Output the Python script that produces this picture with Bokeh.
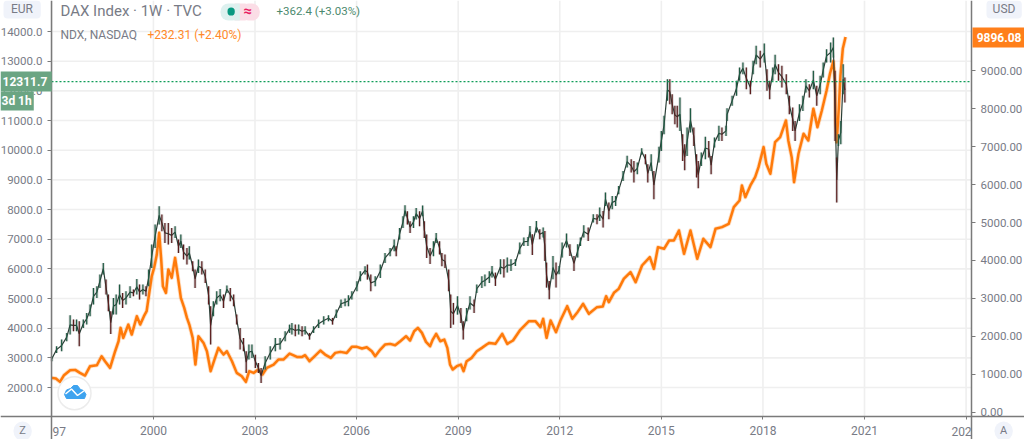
from bokeh.plotting import figure
from bokeh.embed import file_html
from bokeh.resources import INLINE
from bokeh.models import (Range1d, LinearAxis, FixedTicker, Label, ColumnDataSource)

dax_dates = [1997.00,1997.14,1997.29,1997.44,1997.54,1997.64,1997.73,1997.81,1997.93,1998.03,1998.13,1998.23,1998.33,1998.42,1998.52,1998.60,1998.67,1998.74,1998.82,1998.90,1999.00,1999.09,1999.19,1999.31,1999.41,1999.51,1999.59,1999.69,1999.78,1999.86,1999.95,
2000.05,2000.17,2000.25,2000.34,2000.44,2000.54,2000.64,2000.74,2000.81,2000.89,2000.99,2001.06,2001.16,2001.23,2001.33,2001.43,2001.53,2001.63,2001.69,2001.77,2001.87,2001.97,2002.07,2002.17,2002.27,2002.37,2002.46,2002.56,2002.66,2002.74,2002.82,2002.91,2003.01,2003.10,2003.18,2003.30,2003.45,2003.60,2003.74,2003.89,2004.02,
2004.09,2004.19,2004.29,2004.39,2004.48,2004.61,2004.73,2004.88,2005.03,2005.17,2005.29,2005.40,2005.54,2005.66,2005.76,2005.86,2006.01,2006.11,2006.25,2006.32,2006.42,2006.55,2006.70,2006.84,2006.99,2007.11,2007.17,2007.27,2007.37,2007.43,2007.50,2007.58,2007.68,2007.76,2007.86,2007.95,2008.00,2008.07,2008.17,2008.27,2008.35,2008.45,2008.52,2008.61,2008.72,2008.78,2008.86,2008.98,2009.08,2009.15,2009.25,2009.35,2009.47,2009.55,2009.70,2009.79,2009.92,
2010.00,2010.10,2010.25,2010.35,2010.45,2010.56,2010.69,2010.82,2010.94,2011.06,2011.12,2011.19,2011.31,2011.41,2011.51,2011.56,2011.61,2011.69,2011.80,2011.89,2011.98,2012.07,2012.20,2012.30,2012.42,2012.53,2012.61,2012.71,2012.84,2012.99,2013.10,2013.18,2013.28,2013.35,2013.45,2013.55,2013.65,2013.74,2013.87,2013.99,2014.11,2014.19,2014.29,2014.42,2014.53,2014.60,2014.70,2014.78,2014.93,
2015.00,2015.08,2015.18,2015.25,2015.32,2015.40,2015.47,2015.55,2015.63,2015.69,2015.76,2015.86,2015.96,2016.04,2016.09,2016.18,2016.30,2016.40,2016.47,2016.57,2016.70,2016.79,2016.91,2016.94,2017.09,2017.22,2017.31,2017.41,2017.51,2017.63,2017.71,2017.80,2017.92,2018.04,2018.12,2018.20,2018.29,2018.36,2018.46,2018.56,2018.69,2018.78,2018.88,2018.95,2019.08,2019.18,2019.27,2019.37,2019.49,2019.59,2019.69,2019.78,2019.88,2020.00,2020.08,2020.13,2020.18,2020.23,2020.30,2020.37,2020.42]

dax_high = [3054,3391,3616,3841,4437,4291,4291,4234,4291,4515,4796,5358,5415,5808,6201,5639,5134,4572,5021,5134,5471,5190,5246,5415,5302,5662,5471,5471,5415,5977,6820,
7494,8112,7831,7550,7550,7382,7438,6988,7157,6820,6707,6763,6258,5977,6314,6258,5977,5415,4740,4909,5246,5325,5134,5437,5358,5134,4459,4010,3672,3223,3448,3448,3110,2829,2661,3054,3391,3672,3672,3897,4122,
4178,4122,4122,4066,4066,3841,4066,4291,4403,4437,4347,4628,4965,4999,5111,5246,5583,5920,6089,6145,5808,5752,6145,6539,6707,6988,6763,7382,7775,8146,7944,7606,7775,8056,7944,8135,7606,7157,6707,6932,7213,6932,6539,6482,5977,5134,4853,5077,4684,4234,4684,5077,4965,5471,5752,5808,5920,
6100,5875,6325,6325,6381,6325,6325,6887,7055,7078,7449,7168,7617,7336,7392,7280,6212,5594,6437,6212,6100,6887,7190,6830,6437,6830,7055,7471,7392,7842,7842,8067,7954,8573,8235,8460,8460,8797,9303,9809,9697,9640,9584,10068,9865,9528,9865,9303,10112,
10651,11157,12393,12393,11887,11494,11494,11775,10539,10201,10763,11415,10763,9864,9639,9920,10449,10314,9808,10426,10820,10763,10820,11415,11831,12337,12787,12955,12787,12337,13011,13517,13349,13596,12730,12337,12787,13214,12899,12843,12562,11831,11438,10988,11550,11831,12393,12225,12674,12168,12506,12955,13405,13630,13798,12674,9752,10539,10988,12899,12449]

dax_low = [2886,3167,3223,3560,3785,3897,3897,3391,4010,4122,4403,4796,5021,5358,5808,5134,4572,3807,4459,4459,4796,4684,4796,5021,5077,5134,4965,5134,5077,5415,6033,
6707,7494,7269,6876,6820,6876,7044,6539,6707,6314,6145,6314,5920,5358,5864,5808,5527,4796,3448,4403,4796,4909,4684,5190,4909,4740,4122,3279,3223,2492,2942,2998,2661,2492,2155,2605,2942,3223,3279,3560,3841,
3785,3729,3785,3729,3785,3616,3841,4010,4122,4234,4122,4347,4684,4740,4740,4965,5246,5583,5808,5639,5246,5415,5696,6201,6426,6595,6426,6988,7382,7775,7494,7213,7382,7663,7438,7775,7044,6370,6168,6426,6876,6482,6089,6033,5246,4010,4122,4459,4178,3616,4234,4628,4515,5190,5358,5415,5527,
5706,5425,5819,5706,5875,5931,6100,6493,6774,6774,7055,6471,7224,6999,7055,6268,5369,4976,5650,5369,5819,6381,6718,6437,5931,6381,6774,7055,6943,7561,7505,7617,7392,8123,7673,8011,8123,8516,8966,9416,9247,8910,9191,9843,9528,8910,9303,8348,9584,
9977,10539,11663,11550,11213,10876,10763,10651,9639,9325,9808,10595,10145,9077,8718,9471,9696,9752,9190,10089,10314,10314,10482,10988,11494,11831,12337,12562,12056,11887,12562,12899,12787,12955,12000,11719,12337,12562,12337,12112,11887,11213,10651,10314,10988,11325,11944,11775,12056,11494,11887,12449,12955,12955,13124,10314,8235,10145,10201,11887,11606]

ndx_dates = [1997.00,1997.12,1997.24,1997.36,1997.54,1997.69,1997.83,1997.98,1998.13,1998.33,1998.47,1998.57,1998.72,1998.87,1998.97,1999.03,1999.11,1999.26,1999.36,1999.51,1999.61,1999.72,1999.80,1999.87,1999.95,
2000.02,2000.10,2000.17,2000.23,2000.28,2000.37,2000.44,2000.54,2000.64,2000.72,2000.81,2000.91,2000.99,2001.06,2001.16,2001.24,2001.33,2001.48,2001.58,2001.69,2001.82,2001.92,2002.07,2002.17,2002.32,2002.46,2002.61,2002.73,2002.83,2002.96,2003.10,2003.22,2003.35,2003.55,2003.69,2003.84,2004.02,
2004.09,2004.24,2004.39,2004.48,2004.61,2004.78,2004.93,2005.07,2005.24,2005.37,2005.52,2005.71,2005.86,2006.01,2006.16,2006.30,2006.45,2006.55,2006.70,2006.84,2006.99,2007.14,2007.29,2007.46,2007.58,2007.70,2007.81,2007.93,2008.05,2008.17,2008.25,2008.35,2008.47,2008.59,2008.68,2008.76,2008.84,2008.96,2009.08,2009.16,2009.25,2009.40,2009.55,2009.70,2009.84,2009.92,
2010.10,2010.30,2010.45,2010.62,2010.82,2011.09,2011.28,2011.43,2011.51,2011.61,2011.73,2011.89,2012.02,2012.22,2012.37,2012.51,2012.69,2012.86,2013.10,2013.27,2013.37,2013.45,2013.60,2013.74,2013.89,2014.09,2014.24,2014.43,2014.66,2014.78,2014.90,
2015.08,2015.23,2015.37,2015.52,2015.67,2015.86,2016.06,2016.24,2016.45,2016.60,2016.79,2016.99,2017.14,2017.31,2017.38,2017.48,2017.63,2017.77,2017.87,2018.02,2018.10,2018.22,2018.36,2018.51,2018.68,2018.75,2018.85,2018.92,2019.05,2019.20,2019.34,2019.49,2019.61,2019.74,2019.88,2019.98,2020.08,2020.13,2020.15,2020.18,2020.24,2020.29,2020.36,2020.44]

ndx_values = [903,885,797,973,1105,1114,1035,964,1211,1237,1474,1343,1167,1606,1870,2222,1958,2310,2046,2530,2310,2530,2662,3102,3585,
3805,4157,4729,4025,3321,3146,3761,3541,4069,3585,3014,2750,2486,2310,1958,1255,2002,1826,1606,1079,1431,1694,1518,1606,1343,1035,947,797,1079,1035,1123,991,1167,1255,1387,1387,1545,
1518,1457,1457,1501,1343,1492,1624,1518,1431,1562,1589,1562,1721,1721,1677,1712,1606,1474,1650,1782,1800,1765,1870,2002,1888,2134,2222,2090,1853,1738,1914,2064,1870,1914,1694,1255,1123,1211,1255,1079,1343,1431,1606,1694,1782,1826,
1801,2065,1801,1889,2153,2399,2399,2241,2461,1959,2417,2109,2417,2795,2461,2619,2857,2593,2769,2786,3059,2901,3147,3252,3516,3692,3428,3868,4088,3780,4352,
4308,4528,4528,4792,4176,4792,4045,4572,4352,4836,4880,4968,5408,5584,5979,5672,5979,6199,6463,6991,6551,6287,7123,7255,7694,7167,6727,6067,6815,7343,7167,8002,7518,7958,8486,8926,9260,8700,7600,7121,8010,8880,9594,9896]

left_ticks = [2000,3000,4000,5000,6000,7000,8000,9000,10000,11000,12000,13000,14000]
right_ticks = [0,1000,2000,3000,4000,5000,6000,7000,8000,9000]
year_ticks = [1997,2000,2003,2006,2009,2012,2015,2018,2021,2024]
last_dax_price = 12311.7

FONT = "Roboto"
GREY = "#787b86"
AXIS = "#7a7a7a"
GRID = "#efefef"
ORANGE = "#ff7a0a"

# The plot area runs from these bounds; the ranges extend past them so axes and tags fit inside the frame
X0, X1 = 1996.99, 2024.16
Y0, Y1 = 1025, 15045

p = figure(width=1024, height=439, output_backend="svg", toolbar_location=None,
           frame_width=1024, frame_height=439,
           x_range=Range1d(1995.484, 2025.725), y_range=Range1d(250, 15045),
           min_border=0,
           background_fill_color="white", border_fill_color="white",
           x_axis_type=None, y_axis_type=None)
p.outline_line_color = None
p.extra_y_ranges = {"usd": Range1d(-723, 10860)}
p.xgrid.visible = False
p.ygrid.visible = False

def style(ax):
    ax.major_tick_in = 0
    ax.major_tick_out = 4
    ax.minor_tick_line_color = None
    ax.major_tick_line_color = AXIS
    ax.axis_line_color = AXIS
    ax.axis_line_width = 1.5
    ax.major_label_text_color = GREY
    ax.major_label_text_font = FONT
    ax.major_label_text_font_size = "11.5px"
    ax.major_label_standoff = 5

yl = LinearAxis(ticker=FixedTicker(ticks=left_ticks), fixed_location=X0,
                major_label_overrides={t: f"{t}.0" for t in left_ticks})
style(yl)
p.add_layout(yl, "left")

yr = LinearAxis(y_range_name="usd", ticker=FixedTicker(ticks=right_ticks), fixed_location=X1,
                major_label_overrides={t: f"{t}.00" for t in right_ticks})
style(yr)
p.add_layout(yr, "right")

xa = LinearAxis(ticker=FixedTicker(ticks=year_ticks), fixed_location=Y0,
                major_label_overrides={t: str(t) for t in year_ticks})
style(xa)
xa.major_label_text_font_size = "12px"
xa.major_tick_out = 3
xa.major_label_standoff = 6
xa.major_label_overrides[1997] = ""
xa.major_label_overrides[2024] = ""
p.add_layout(xa, "below")

p.segment([X0] * len(left_ticks), left_ticks, [X1] * len(left_ticks), left_ticks,
          color=GRID, line_width=1.6, level="underlay")
p.segment(year_ticks, [Y0] * len(year_ticks), year_ticks, [Y1] * len(year_ticks),
          color=GRID, line_width=1.6, level="underlay")

# NDX line on the right-hand scale
p.line(ndx_dates, ndx_values, y_range_name="usd", color=ORANGE, line_width=4.2, line_alpha=0.25, line_join="round")
p.line(ndx_dates, ndx_values, y_range_name="usd", color=ORANGE, line_width=2.5, line_join="round")

# DAX candles on the left-hand scale
mids = [(h + l) / 2 for h, l in zip(dax_high, dax_low)]
colors = ["#1e5b43" if i == 0 or m >= mids[i - 1] else "#5a1c1c" for i, m in enumerate(mids)]
src = ColumnDataSource(dict(x=dax_dates, hi=dax_high, lo=dax_low, c=colors))
p.segment("x", "lo", "x", "hi", source=src, color="#8c8c8c", line_width=3, line_alpha=0.35)
p.line(dax_dates, mids, color="#2b3f37", line_width=1.2)
p.segment("x", "lo", "x", "hi", source=src, color="c", line_width=1.2)

p.segment([X0], [last_dax_price], [X1], [last_dax_price], color="#0f9d58", line_width=1.2, line_dash="2 2")

# TradingView logo, placed by pixel through the chart's scales
def xd(px): return X0 + (px - 51) * (X1 - X0) / 920
def yd(py): return Y1 - py * (Y1 - Y0) / 416

p.scatter([xd(74)], [yd(392.7)], size=33, fill_color="white", line_color="#ececec", line_width=1.5)
p.patch([xd(v) for v in (64, 66, 70, 73, 77, 80, 83, 85.5, 84, 66)],
        [yd(v) for v in (394, 389.5, 388, 385, 385, 389, 390, 394, 398, 398)], color="#3ea3ef")
p.line([xd(v) for v in (65, 71, 77, 84)], [yd(v) for v in (393.5, 388.5, 395, 390)], color="white", line_width=1.5)

# Canvas decorations: filled boxes are labels with a background
def box(l, t, r, b, color, radius=0):
    p.add_layout(Label(x=l, y=t, x_units="canvas", y_units="canvas", text=" ", text_font_size="1px",
                       text_align="left", text_baseline="top",
                       padding=(0, r - l, b - t, 0), background_fill_color=color, background_fill_alpha=1,
                       border_radius=radius, level="annotation"))

def label(x, y, text, color=GREY, size=12, align="left", style="normal"):
    p.add_layout(Label(x=x, y=y, x_units="canvas", y_units="canvas", text=text, text_color=color,
                       text_font=FONT, text_font_size=f"{size}px", text_align=align,
                       text_baseline="middle", text_font_style=style, level="annotation"))

box(3, 0, 40, 17, "#f0f3fa", 4)
label(21.5, 8.5, "EUR", align="center")
box(986, 0, 1021, 17, "#f0f3fa", 4)
label(1003.5, 8.5, "USD", align="center")
box(13, 421, 31, 439, "#f0f3fa", 9)
label(22, 430, "Z", size=11, align="center")
box(994, 421, 1012, 439, "#f0f3fa", 9)
label(1003, 430, "A", size=11, align="center")

label(52, 431, "97")
label(961, 431, "202", align="center")

box(0, 71, 51, 90, "#6ba583")
label(2, 80.5, "12311.7", color="white", style="bold")
box(0, 91, 33, 109, "#6ba583")
label(1, 100, "3d 1h", color="white", style="bold")
box(972, 27, 1024, 46, "#ff7f1a")
label(1021, 36.5, "9896.08", color="white", align="right", style="bold")

label(60, 10.5, "DAX Index · 1W · TVC", size=15)
box(220, 3, 240, 19, "#ddf1ef", 8)
box(240, 3, 259, 19, "#fbdde6", 8)
box(234, 3, 245, 19, "#fbdde6")
box(234, 3, 239, 19, "#ddf1ef")
box(227, 7, 234, 14, "#089981", 4)
label(247, 10, "≈", color="#e91e63", size=15, align="center", style="bold")
label(276, 10.5, "+362.4 (+3.03%)", color="#4c8a6e", size=11.5)
label(60, 34, "NDX, NASDAQ", size=12)
label(147, 34, "+232.31 (+2.40%)", color="#ff8a2a", size=12)

open("out.html", "w").write(file_html(p, INLINE))
